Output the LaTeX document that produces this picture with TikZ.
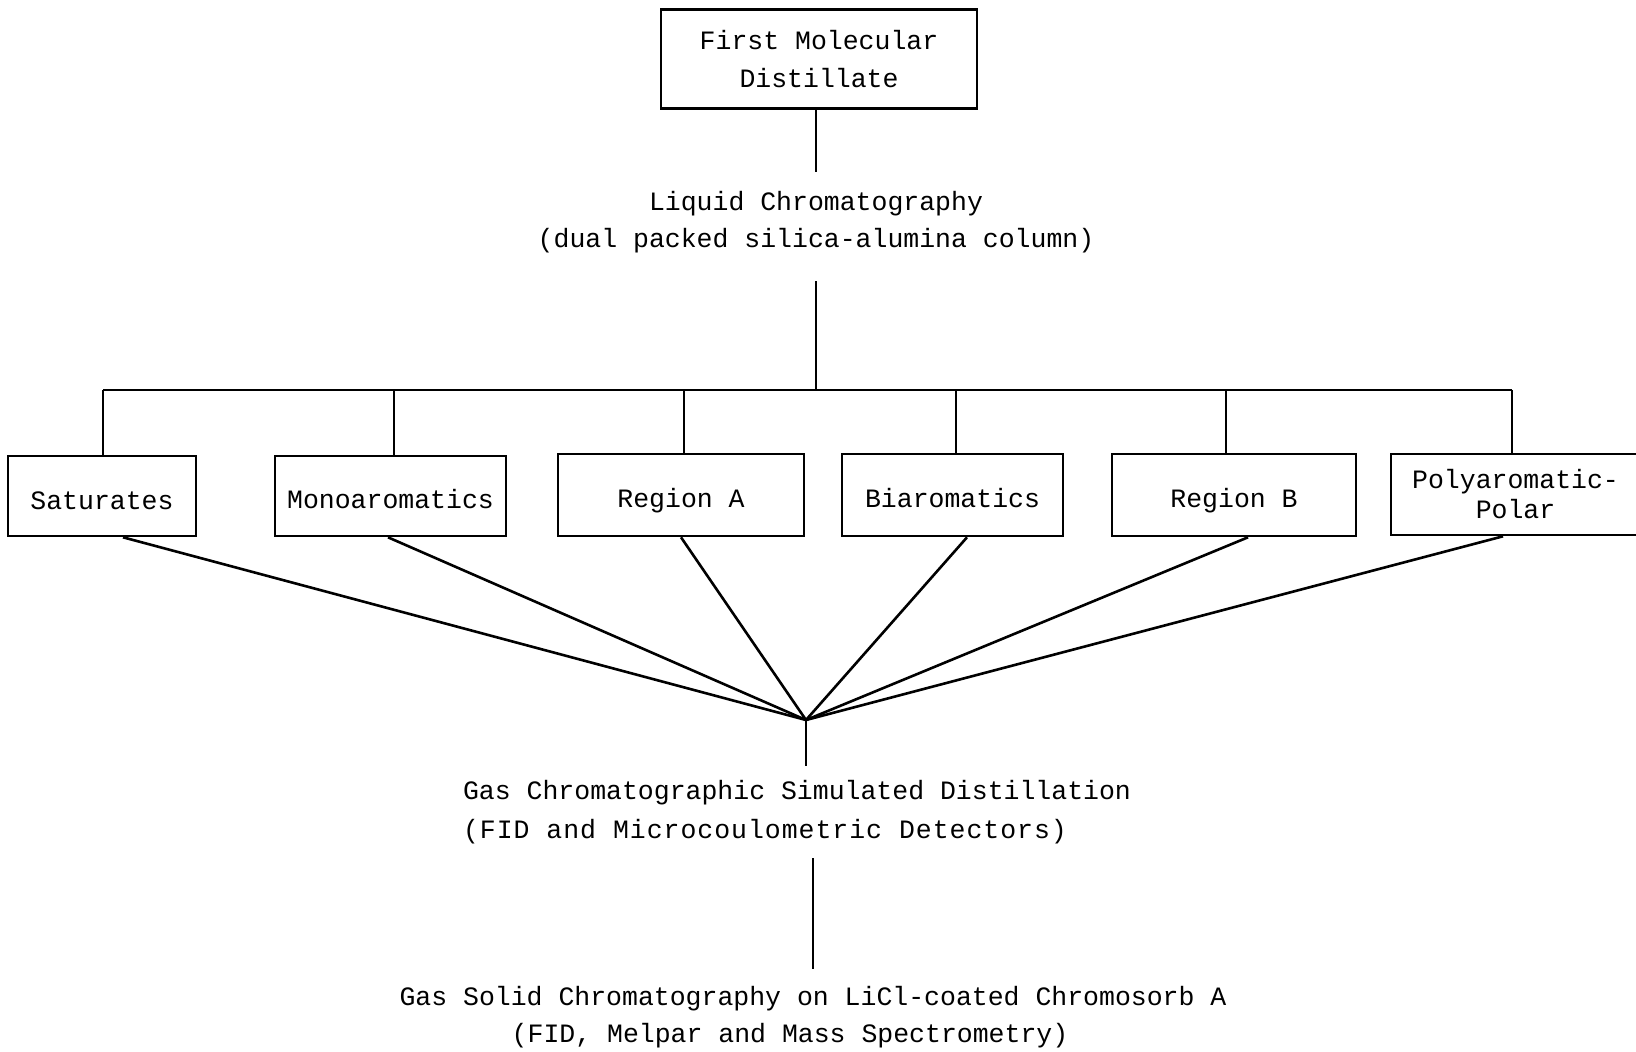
\documentclass[tikz,border=0pt]{standalone}
\usepackage{fontspec}
\setmainfont{Liberation Mono}
\begin{document}
\begin{tikzpicture}[x=0.5pt,y=-0.5pt, line width=1.3pt,
  every node/.style={font=\fontsize{13.25pt}{18.75pt}\selectfont, inner sep=0pt},
  box/.style={draw, minimum height=40pt, align=center, text height=13pt, text depth=0.6pt},
  txt/.style={align=center}]
\useasboundingbox (0,0) rectangle (1636,1052);
% top box
\node[draw, align=center, minimum width=158pt, minimum height=49.5pt] (top) at (819,59) {First Molecular\\Distillate};
\node[txt] (lc) at (816,222) {Liquid Chromatography\\(dual packed silica-alumina column)};
\coordinate (bus) at (816,390);
% fraction boxes
\node[box, minimum width=94pt, text height=14.5pt] (sat) at (102,496) {Saturates};
\node[box, minimum width=115.5pt] (mono) at (390.5,496) {Monoaromatics};
\node[box, minimum width=123pt, minimum height=41pt] (rega) at (681,495) {Region A};
\node[box, minimum width=110.5pt, minimum height=41pt] (biar) at (952.5,495) {Biaromatics};
\node[box, minimum width=122pt, minimum height=41pt] (regb) at (1234,495) {Region B};
\node[draw, align=center, minimum width=124.5pt, minimum height=40.5pt,
      font=\fontsize{13.25pt}{15pt}\selectfont] (poly) at (1515.5,494.5) {Polyaromatic-\\Polar};
% drop points
\coordinate (dsat) at ([xshift=0.5pt]sat.north);
\coordinate (dmono) at ([xshift=1.75pt]mono.north);
\coordinate (drega) at ([xshift=1.5pt]rega.north);
\coordinate (dbiar) at ([xshift=1.75pt]biar.north);
\coordinate (dregb) at ([xshift=-4pt]regb.north);
\coordinate (dpoly) at ([xshift=-1.75pt]poly.north);
% fan point
\coordinate (fan) at (806,720);
% lower texts
\node[align=left] (gc) at (797,812) {Gas Chromatographic Simulated Distillation\\[0.6pt]{\addfontfeature{LetterSpace=3.7}(FID and Microcoulometric Detectors)}};
\node (gsc1) at (813,999) {Gas Solid Chromatography on LiCl-coated Chromosorb A};
\node (gsc2) at (790,1036) {(FID, Melpar and Mass Spectrometry)};
% connectors
\draw[shorten >=9pt] (top.south -| lc.north) -- (lc.north);
\draw[shorten <=13.5pt] (lc.south) -- (lc.south |- bus);
\draw (dsat |- bus) -- (dpoly |- bus);
\foreach \d in {dsat,dmono,drega,dbiar,dregb,dpoly} \draw (\d |- bus) -- (\d);
\draw ([xshift=10.5pt]sat.south) -- (fan);
\draw ([xshift=-1.25pt]mono.south) -- (fan);
\draw (rega.south) -- (fan);
\draw ([xshift=7.25pt]biar.south) -- (fan);
\draw ([xshift=7pt]regb.south) -- (fan);
\draw ([xshift=-6.25pt]poly.south) -- (fan);
\draw[shorten >=6.5pt] (fan) -- (fan |- gc.north);
\draw[shorten <=6.5pt, shorten >=8pt] (gc.south -| gsc1.north) -- (gsc1.north);
\end{tikzpicture}
\end{document}
